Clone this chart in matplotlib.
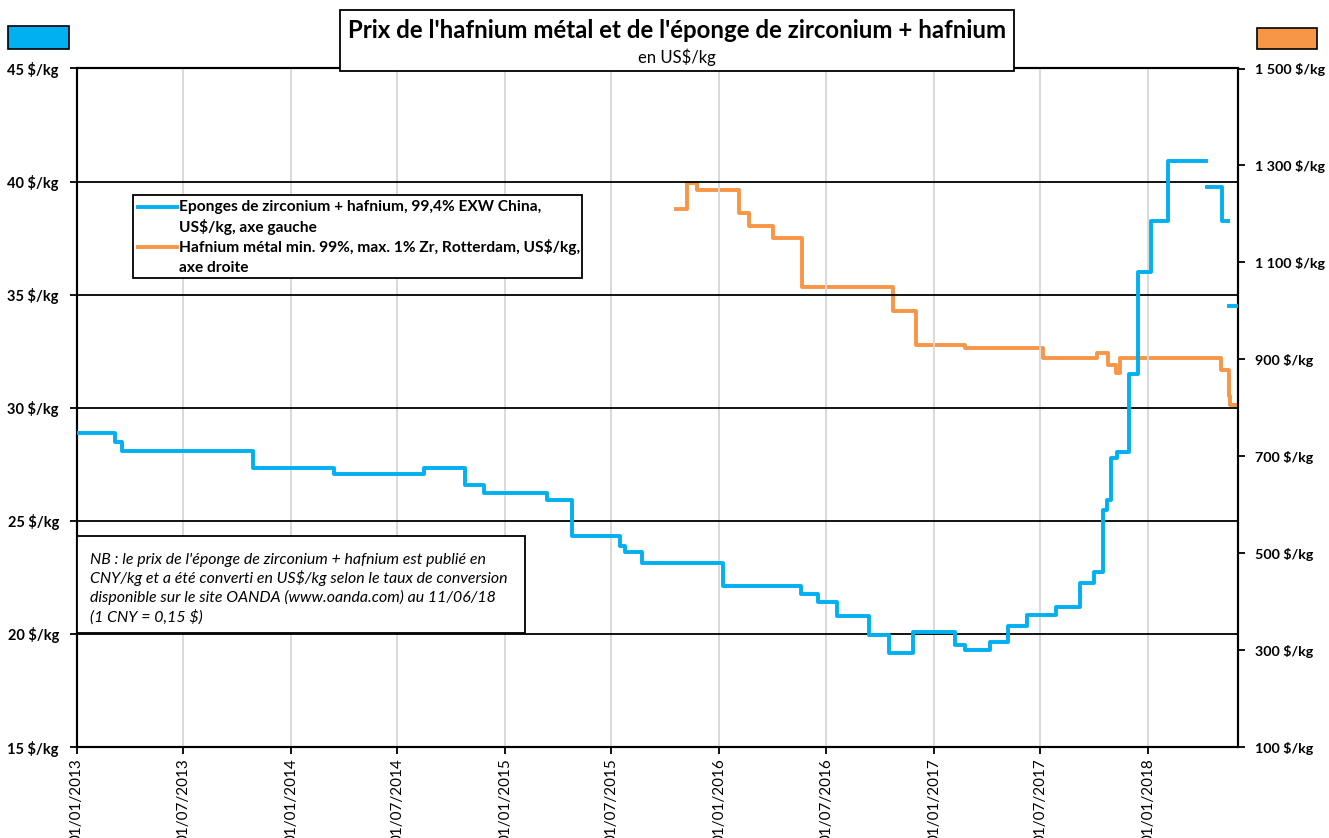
import numpy as np
import pandas as pd
import matplotlib
matplotlib.use("Agg")
import matplotlib.pyplot as plt
import matplotlib.dates as mdates
from matplotlib.patches import Rectangle
from matplotlib.lines import Line2D

plt.rcParams['font.family'] = ['Lato', 'DejaVu Sans']

# Eponge de zirconium + hafnium, US$/kg (axe gauche)
dates_zr = ["2013-01-01", "2013-03-07", "2013-03-19", "2013-10-28", "2014-03-15",
            "2014-08-16", "2014-10-24", "2014-11-26", "2015-03-13", "2015-04-25",
            "2015-07-16", "2015-07-24", "2015-08-22", "2016-01-07", "2016-05-19",
            "2016-06-17", "2016-07-20", "2016-09-12", "2016-10-16", "2016-11-26",
            "2017-02-06", "2017-02-23", "2017-04-07", "2017-05-07", "2017-06-09",
            "2017-07-28", "2017-09-07", "2017-10-01", "2017-10-16", "2017-10-23",
            "2017-10-30", "2017-11-09", "2017-11-30", "2017-12-15", "2018-01-06",
            "2018-02-04", "2018-04-10", "2018-04-12", "2018-05-07", "2018-05-17",
            "2018-05-19", "2018-06-03"]
prix_zr = [28.9, 28.5, 28.1, 27.35, 27.05,
           27.35, 26.6, 26.25, 25.9, 24.35,
           23.9, 23.6, 23.15, 22.1, 21.75,
           21.4, 20.8, 19.95, 19.15, 20.1,
           19.5, 19.3, 19.65, 20.35, 20.85,
           21.2, 22.25, 22.75, 25.5, 25.9,
           27.8, 28.05, 31.5, 36.0, 38.25,
           40.9, np.nan, 39.75, 38.25, np.nan,
           34.5, 34.5]

# Hafnium metal, Rotterdam, US$/kg (axe droit)
dates_hf = ["2015-10-19", "2015-11-06", "2015-11-23", "2016-02-03", "2016-02-20",
            "2016-04-01", "2016-05-21", "2016-10-23", "2016-12-01", "2017-02-23",
            "2017-07-06", "2017-10-06", "2017-10-25", "2017-11-07", "2017-11-14",
            "2018-05-05", "2018-05-19", "2018-05-21", "2018-06-03"]
prix_hf = [1210, 1263, 1249, 1201, 1176,
           1150, 1050, 1000, 929, 924,
           902, 914, 888, 872, 902,
           877, 825, 805, 805]

left_ticks = [15, 20, 25, 30, 35, 40, 45]
right_ticks = [100, 300, 500, 700, 900, 1100, 1300, 1500]

BLUE = '#00b0f0'
ORANGE = '#f79646'

W, H = 1329, 838
def fx(px):
    return px / W
def fy(py):
    return 1 - py / H

fig = plt.figure(figsize=(W / 100, H / 100), dpi=100)
ax = fig.add_axes([fx(77), fy(747), fx(1238) - fx(77), fy(68.5) - fy(747)])
ax2 = ax.twinx()

d_zr = pd.to_datetime(dates_zr)
d_hf = pd.to_datetime(dates_hf)

ax.step(d_zr, prix_zr, where='post', color=BLUE, lw=2.8, zorder=5)
ax2.step(d_hf, prix_hf, where='post', color=ORANGE, lw=2.8, zorder=5)

ax.set_xlim(pd.Timestamp("2013-01-01"), pd.Timestamp("2018-06-03"))
ax.set_ylim(15, 45)
ax2.set_ylim(100, 1500)

xt = pd.date_range("2013-01-01", "2018-01-01", freq="6MS")
ax.set_xticks(xt)
ax.xaxis.set_major_formatter(mdates.DateFormatter('%d/%m/%Y'))
plt.setp(ax.get_xticklabels(), rotation=90, fontsize=11, va='top', ha='center')

# gridlines: grey verticals, black horizontals on the left scale
for t in xt:
    ax.axvline(t, color='#d9d9d9', lw=1.4, zorder=1)
for v in left_ticks[1:-1]:
    ax.axhline(v, color='black', lw=1.3, zorder=2)

ax.set_yticks(left_ticks)
ax.set_yticklabels([f"{v} $/kg" for v in left_ticks], fontsize=10.5, fontweight='bold')
ax2.set_yticks(right_ticks)
ax2.set_yticklabels([f"{v:,} $/kg".replace(",", " ") for v in right_ticks],
                    fontsize=10.3, fontweight='bold')

ax.tick_params(axis='y', direction='out', length=5, width=1.3, pad=8)
ax.tick_params(axis='x', direction='out', length=5, width=1.3, pad=3)
ax2.tick_params(axis='y', direction='out', length=5, width=1.3, pad=7)
for a in (ax, ax2):
    for s in a.spines.values():
        s.set_linewidth(1.5)
        s.set_color('black')
ax.set_zorder(ax2.get_zorder() + 1)
ax.patch.set_visible(False)

# title box
fig.patches.append(Rectangle((fx(340), fy(71)), fx(1014) - fx(340), fy(10) - fy(71),
                             transform=fig.transFigure, fill=True, facecolor='white',
                             edgecolor='black', lw=1.3, zorder=10))
fig.text(fx(677), fy(30), "Prix de l'hafnium métal et de l'éponge de zirconium + hafnium",
         ha='center', va='center', fontsize=17.3, fontweight='bold', zorder=11)
fig.text(fx(677), fy(57), "en US$/kg", ha='center', va='center', fontsize=12, zorder=11)

# axis colour keys
fig.patches.append(Rectangle((fx(8), fy(49)), fx(69) - fx(8), fy(26) - fy(49),
                             transform=fig.transFigure, facecolor=BLUE,
                             edgecolor='black', lw=1.2))
fig.patches.append(Rectangle((fx(1257), fy(49)), fx(1317) - fx(1257), fy(28) - fy(49),
                             transform=fig.transFigure, facecolor=ORANGE,
                             edgecolor='black', lw=1.2))

# legend box
fig.patches.append(Rectangle((fx(133), fy(278)), fx(582) - fx(133), fy(195) - fy(278),
                             transform=fig.transFigure, facecolor='white',
                             edgecolor='black', lw=1.3, zorder=10))
fig.lines.append(Line2D([fx(138), fx(177)], [fy(207), fy(207)], transform=fig.transFigure,
                        color=BLUE, lw=2.8, zorder=11))
fig.lines.append(Line2D([fx(138), fx(177)], [fy(247), fy(247)], transform=fig.transFigure,
                        color=ORANGE, lw=2.8, zorder=11))
leg_lines = [("Eponges de zirconium + hafnium, 99,4% EXW China,", 207),
             ("US$/kg, axe gauche", 227),
             ("Hafnium métal min. 99%, max. 1% Zr, Rotterdam, US$/kg,", 247),
             ("axe droite", 268)]
for txt, py in leg_lines:
    fig.text(fx(179), fy(py), txt, ha='left', va='center', fontsize=11.2,
             fontweight='bold', zorder=11)

# note box
fig.patches.append(Rectangle((fx(77), fy(633)), fx(525) - fx(77), fy(536) - fy(633),
                             transform=fig.transFigure, facecolor='white',
                             edgecolor='black', lw=1.3, zorder=10))
note_lines = [("NB : le prix de l'éponge de zirconium + hafnium est publié en", 560),
              ("CNY/kg et a été converti en US$/kg selon le taux de conversion", 578),
              ("disponible sur le site OANDA (www.oanda.com) au 11/06/18", 597),
              ("(1 CNY = 0,15 $)", 617)]
for txt, py in note_lines:
    fig.text(fx(90), fy(py), txt, ha='left', va='center', fontsize=11.4,
             fontstyle='italic', zorder=11)

fig.savefig("out.png", dpi=100)
